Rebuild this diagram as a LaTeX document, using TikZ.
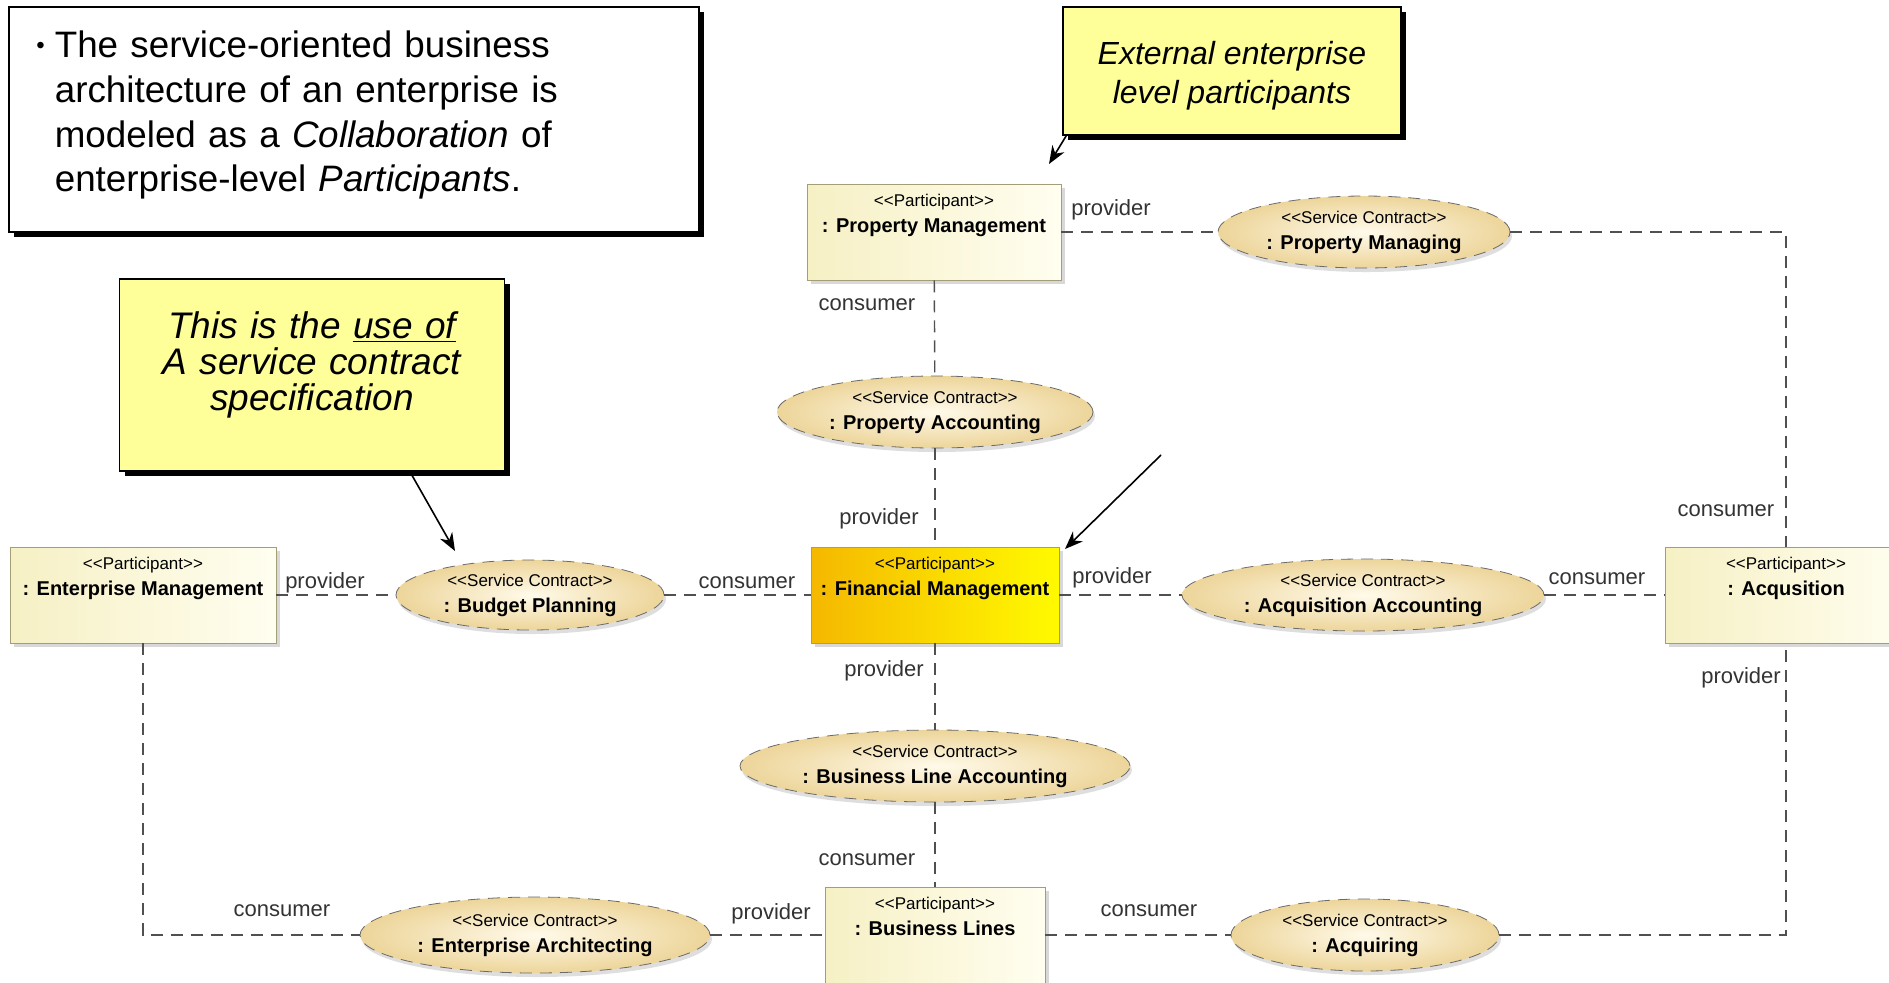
\documentclass[tikz,border=0pt]{standalone}
\usepackage{fontspec}
\setmainfont{Liberation Sans}
\usetikzlibrary{arrows.meta,shapes.geometric,shadows}
\definecolor{PartLeft}{HTML}{F6F0C4}
\definecolor{PartRight}{HTML}{FFFEF0}
\definecolor{PartLine}{HTML}{A39E78}
\definecolor{FinLeft}{HTML}{F5B800}
\definecolor{FinRight}{HTML}{FFFA00}
\definecolor{ContractIn}{HTML}{FFFAEA}
\definecolor{ContractOut}{HTML}{EDD59A}
\definecolor{LinkGray}{HTML}{505050}
\definecolor{NoteYellow}{HTML}{FFFF99}
\newcommand\stereo[1]{{\fontsize{8.5}{13}\selectfont<\kern0pt<#1>\kern0pt>}}

\begin{document}
\begin{tikzpicture}[x=0.5pt,y=-0.5pt,
    participant/.style={draw=PartLine,left color=PartLeft,right color=PartRight,
      align=center,font=\fontsize{10}{13}\selectfont,inner sep=4pt,
      text height=20pt,text depth=20pt,
      drop shadow={shadow xshift=2pt,shadow yshift=-2pt,fill=black!30}},
    contract/.style={ellipse,draw=LinkGray!85,dash pattern=on 6pt off 4pt,
      inner color=ContractIn,outer color=ContractOut,align=center,inner sep=0pt,
      font=\fontsize{10}{13}\selectfont,
      drop shadow={shadow xshift=1pt,shadow yshift=-2pt,fill=black!25}},
    note/.style={draw=black,line width=0.8pt,fill=NoteYellow,align=center,
      font=\itshape,
      drop shadow={shadow xshift=2.5pt,shadow yshift=-2.5pt,fill=black,opacity=1}},
    link/.style={draw=LinkGray,line width=0.7pt,dash pattern=on 6pt off 4pt},
    role/.style={font=\fontsize{11}{13}\selectfont,text=black!80},
    pointer/.style={draw=black,line width=0.8pt,-{Stealth[length=9pt,width=7pt]}}]
  \fill[white] (0,0) rectangle (1889,982);
  \useasboundingbox (0,0) rectangle (1889,982);

  \node[draw=black,line width=0.8pt,fill=white,anchor=north west,align=left,
    minimum width=345pt,text width=299pt,inner xsep=23pt,inner ysep=12pt,
    text height=13.5pt,text depth=75pt,font=\fontsize{18.4}{22.3}\selectfont,
    drop shadow={shadow xshift=2.5pt,shadow yshift=-2.5pt,fill=black,opacity=1}]
    (intro) at (8,6)
    {\llap{\raisebox{2pt}{\fontsize{12}{12}\selectfont\textbullet}\hspace{5pt}}The service-oriented business\\
     architecture of an enterprise is\\
     modeled as a \textit{Collaboration} of\\
     enterprise-level \textit{Participants}.};

  \node[note,minimum width=169pt,inner ysep=0pt,text height=48.3pt,text depth=15.7pt,
    font=\itshape\fontsize{16}{19.5}\selectfont] (ext) at (1232,71)
    {External enterprise\\level participants};
  \node[note,text width=192.5pt,inner xsep=0pt,inner ysep=16.5pt,text height=13.3pt,
    text depth=49.7pt,font=\itshape\fontsize{18.5}{18}\selectfont] (use) at (312,375)
    {This is the \underline{use of}\\A service contract\\specification};

  \node[participant,minimum width=127pt] (pm) at (934,232)
    {\stereo{Participant}\\\textbf{: Property Management}};
  \node[participant,minimum width=133pt] (em) at (143,595)
    {\stereo{Participant}\\\textbf{: Enterprise Management}};
  \node[participant,minimum width=124pt,left color=FinLeft,right color=FinRight] (fm) at (935,595)
    {\stereo{Participant}\\\textbf{: Financial Management}};
  \node[participant,minimum width=121pt] (acq) at (1786,595)
    {\stereo{Participant}\\\textbf{: Acqusition}};
  \node[participant,minimum width=110pt] (bl) at (935,935)
    {\stereo{Participant}\\\textbf{: Business Lines}};

  \node[contract,minimum width=146pt,minimum height=36pt] (pmng) at (1364,232)
    {\stereo{Service Contract}\\\textbf{: Property Managing}};
  \node[contract,minimum width=158pt,minimum height=36pt] (pacc) at (935,412)
    {\stereo{Service Contract}\\\textbf{: Property Accounting}};
  \node[contract,minimum width=134pt,minimum height=35pt] (budget) at (530,595)
    {\stereo{Service Contract}\\\textbf{: Budget Planning}};
  \node[contract,minimum width=181pt,minimum height=36pt] (acqacc) at (1363,595)
    {\stereo{Service Contract}\\\textbf{: Acquisition Accounting}};
  \node[contract,minimum width=195pt,minimum height=36pt] (blacc) at (935,766)
    {\stereo{Service Contract}\\\textbf{: Business Line Accounting}};
  \node[contract,minimum width=175pt,minimum height=38pt] (entarch) at (535,935)
    {\stereo{Service Contract}\\\textbf{: Enterprise Architecting}};
  \node[contract,minimum width=134pt,minimum height=36pt] (acquiring) at (1365,935)
    {\stereo{Service Contract}\\\textbf{: Acquiring}};

  \draw[link] (pm) -- (pmng);
  \draw[link] (pmng) -| (acq);
  \draw[link] (pm) -- (pacc);
  \draw[link] (pacc) -- (fm);
  \draw[link] (em) -- (budget);
  \draw[link] (budget) -- (fm);
  \draw[link] (fm) -- (acqacc);
  \draw[link] (acqacc) -- (acq);
  \draw[link] (fm) -- (blacc);
  \draw[link] (blacc) -- (bl);
  \draw[link] (em) |- (entarch);
  \draw[link] (entarch) -- (bl);
  \draw[link] (bl) -- (acquiring);
  \draw[link] (acquiring) -| (acq);

  \node[role] (r1) at (1111,210) {provider};
  \node[role] (r2) at (867,305) {consumer};
  \node[role] (r3) at (879,519) {provider};
  \node[role] (r4) at (1726,511) {consumer};
  \node[role] (r5) at (325,583) {provider};
  \node[role] (r6) at (747,583) {consumer};
  \node[role] (r7) at (1112,578) {provider};
  \node[role] (r8) at (1597,579) {consumer};
  \node[role] (r9) at (884,671) {provider};
  \node[role] (r10) at (1741,678) {provider};
  \node[role] (r11) at (867,860) {consumer};
  \node[role] (r12) at (282,911) {consumer};
  \node[role] (r13) at (771,914) {provider};
  \node[role] (r14) at (1149,911) {consumer};

  \coordinate (pmtip) at (1049,164);
  \coordinate (budtip) at (455,551);
  \coordinate (fmfrom) at (1161,455);
  \coordinate (fmtip) at (1065,549);
  \draw[pointer] ([xshift=2pt]ext.south west) -- (pmtip);
  \draw[pointer] ([xshift=49pt]use.south) -- (budtip);
  \draw[pointer] (fmfrom) -- (fmtip);
\end{tikzpicture}
\end{document}
